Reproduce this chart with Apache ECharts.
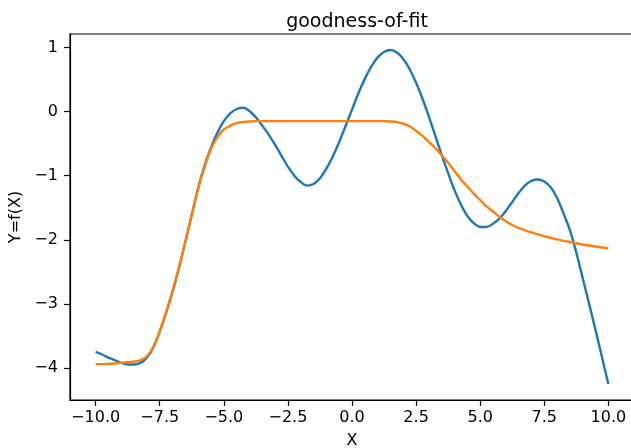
<!DOCTYPE html>
<html>
<head>
<meta charset="utf-8">
<script src="https://cdn.jsdelivr.net/npm/echarts@6/dist/echarts.min.js"></script>
<style>
  html, body { margin: 0; padding: 0; background: #fff; }
  #main { width: 631px; height: 448px; }
</style>
</head>
<body>
<div id="main"></div>
<script>
// x sample positions
var xs = [-10, -9.75, -9.5, -9.25, -9, -8.75, -8.5, -8.25, -8, -7.75,
  -7.5, -7.25, -7, -6.75, -6.5, -6.25, -6, -5.75, -5.5, -5.25,
  -5, -4.75, -4.5, -4.25, -4, -3.75, -3.5, -3.25, -3, -2.75,
  -2.5, -2.25, -2, -1.75, -1.5, -1.25, -1, -0.75, -0.5, -0.25,
  0, 0.25, 0.5, 0.75, 1, 1.25, 1.5, 1.75, 2, 2.25,
  2.5, 2.75, 3, 3.25, 3.5, 3.75, 4, 4.25, 4.5, 4.75,
  5, 5.25, 5.5, 5.75, 6, 6.25, 6.5, 6.75, 7, 7.25,
  7.5, 7.75, 8, 8.25, 8.5, 8.75, 9, 9.25, 9.5, 9.75, 10];

// blue: the data curve
var fx = [-3.75, -3.79, -3.84, -3.88, -3.92, -3.945, -3.945, -3.92, -3.84, -3.68,
  -3.43, -3.14, -2.81, -2.44, -2.03, -1.61, -1.19, -0.84, -0.56, -0.33,
  -0.15, -0.03, 0.04, 0.06, 0.01, -0.09, -0.22, -0.36, -0.52, -0.69,
  -0.86, -1.00, -1.10, -1.155, -1.13, -1.04, -0.89, -0.70, -0.475, -0.225,
  0.03, 0.285, 0.51, 0.70, 0.845, 0.93, 0.96, 0.92, 0.82, 0.66,
  0.45, 0.20, -0.08, -0.38, -0.68, -0.96, -1.23, -1.45, -1.63, -1.74,
  -1.80, -1.80, -1.75, -1.67, -1.55, -1.41, -1.27, -1.15, -1.08, -1.06,
  -1.09, -1.18, -1.35, -1.59, -1.85, -2.20, -2.60, -3.00, -3.41, -3.83, -4.25];

// orange: the fitted curve
var fit = [-3.94, -3.94, -3.935, -3.93, -3.92, -3.91, -3.90, -3.88, -3.82, -3.67,
  -3.43, -3.13, -2.80, -2.43, -2.03, -1.61, -1.20, -0.86, -0.58, -0.40,
  -0.28, -0.22, -0.18, -0.165, -0.155, -0.15, -0.15, -0.15, -0.15, -0.15,
  -0.15, -0.15, -0.15, -0.15, -0.15, -0.15, -0.15, -0.15, -0.15, -0.15,
  -0.15, -0.15, -0.15, -0.15, -0.15, -0.15, -0.155, -0.165, -0.19, -0.23,
  -0.30, -0.38, -0.475, -0.57, -0.68, -0.80, -0.93, -1.06, -1.17, -1.28,
  -1.38, -1.48, -1.56, -1.64, -1.71, -1.77, -1.815, -1.855, -1.885, -1.915,
  -1.945, -1.97, -1.995, -2.015, -2.035, -2.055, -2.075, -2.09, -2.105, -2.12, -2.13];

var xTicks = [-10, -7.5, -5, -2.5, 0, 2.5, 5, 7.5, 10];
var yTicks = [-4, -3, -2, -1, 0, 1];

function pairs(ys) {
  return xs.map(function (x, i) { return [x, ys[i]]; });
}

var font = 'DejaVu Sans';

var chart = echarts.init(document.getElementById('main'));
var option = {
  animation: false,
  backgroundColor: '#fff',
  title: {
    text: 'goodness-of-fit',
    left: 352,
    textAlign: 'center',
    top: 8,
    textStyle: { fontFamily: font, fontSize: 19, fontWeight: 'normal', color: '#000' }
  },
  grid: {
    left: 70, top: 34, width: 564, height: 366,
    outerBoundsMode: 'none',
    show: true, borderColor: '#000', borderWidth: 1.2, backgroundColor: 'transparent'
  },
  xAxis: {
    type: 'value',
    min: -11, max: 11,
    name: 'X',
    nameLocation: 'middle',
    nameGap: 33,
    nameTextStyle: { fontFamily: font, fontSize: 16, color: '#000' },
    axisLine: { show: true, onZero: false, lineStyle: { color: '#000', width: 1.2 } },
    axisTick: { show: true, length: 6, customValues: xTicks, lineStyle: { color: '#000', width: 1.2 } },
    axisLabel: {
      customValues: xTicks, margin: 10,
      fontFamily: font, fontSize: 16, color: '#000',
      formatter: function (v) { return v.toFixed(1).replace('-', '\u2212'); }
    },
    splitLine: { show: false }
  },
  yAxis: {
    type: 'value',
    min: -4.5, max: 1.21,
    name: 'Y=f(X)',
    nameLocation: 'middle',
    nameGap: 44,
    nameTextStyle: { fontFamily: font, fontSize: 16, color: '#000' },
    axisLine: { show: true, onZero: false, lineStyle: { color: '#000', width: 1.2 } },
    axisTick: { show: true, length: 6, customValues: yTicks, lineStyle: { color: '#000', width: 1.2 } },
    axisLabel: {
      customValues: yTicks, margin: 12,
      fontFamily: font, fontSize: 16, color: '#000',
      formatter: function (v) { return String(v).replace('-', '\u2212'); }
    },
    splitLine: { show: false }
  },
  series: [
    {
      name: 'f(X)',
      type: 'line',
      data: pairs(fx),
      smooth: 0.3,
      showSymbol: false,
      lineStyle: { color: '#1f77b4', width: 2.4 },
      itemStyle: { color: '#1f77b4' }
    },
    {
      name: 'fit',
      type: 'line',
      data: pairs(fit),
      smooth: 0.3,
      showSymbol: false,
      lineStyle: { color: '#ff7f0e', width: 2.4 },
      itemStyle: { color: '#ff7f0e' }
    }
  ]
};
chart.setOption(option);
</script>
</body>
</html>
